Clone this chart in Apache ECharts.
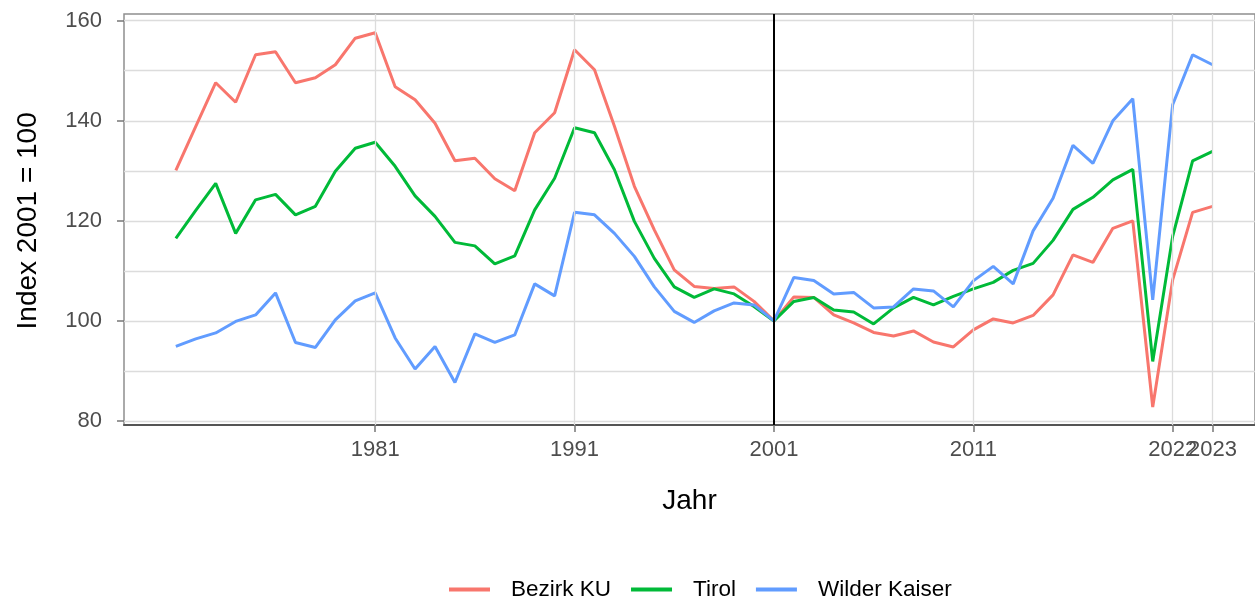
<!DOCTYPE html>
<html>
<head>
<meta charset="utf-8">
<script src="https://cdn.jsdelivr.net/npm/echarts@6/dist/echarts.min.js"></script>
<style>
  html, body { margin: 0; padding: 0; background: #fff; }
  #chart { width: 1255px; height: 597px; }
</style>
</head>
<body>
<div id="chart"></div>
<script>
// Jahre 1971 - 2023
var years = [1971,1972,1973,1974,1975,1976,1977,1978,1979,1980,
             1981,1982,1983,1984,1985,1986,1987,1988,1989,1990,
             1991,1992,1993,1994,1995,1996,1997,1998,1999,2000,
             2001,2002,2003,2004,2005,2006,2007,2008,2009,2010,
             2011,2012,2013,2014,2015,2016,2017,2018,2019,2020,
             2021,2022,2023];

var bezirkKU = [130.1,138.9,147.6,143.7,153.2,153.8,147.6,148.6,151.2,156.5,
                157.6,146.8,144.2,139.5,132.0,132.5,128.4,126.0,137.6,141.6,
                154.2,150.2,138.9,126.9,118.2,110.2,106.9,106.5,106.8,103.9,
                100,104.8,104.7,101.2,99.6,97.7,97.0,98.0,95.8,94.8,
                98.2,100.4,99.6,101.1,105.2,113.2,111.7,118.5,120.0,82.8,
                108.2,121.7,122.9];

var tirol = [116.5,122.1,127.5,117.5,124.2,125.3,121.2,122.9,129.9,134.5,
             135.7,130.9,125.0,120.9,115.7,115.0,111.4,113.0,122.2,128.5,
             138.6,137.6,130.2,119.9,112.5,106.8,104.7,106.4,105.4,102.9,
             100,103.9,104.7,102.2,101.8,99.4,102.6,104.7,103.2,104.9,
             106.4,107.7,110.1,111.5,116.1,122.3,124.7,128.2,130.3,91.9,
             116.9,132.0,133.9];

var wilderKaiser = [94.9,96.4,97.6,99.9,101.2,105.6,95.7,94.7,100.2,104.0,
                    105.6,96.6,90.4,94.9,87.7,97.4,95.7,97.2,107.4,105.0,
                    121.7,121.2,117.5,112.9,106.8,101.9,99.7,102.0,103.6,103.2,
                    100,108.7,108.1,105.4,105.7,102.6,102.8,106.4,106.0,102.8,
                    108.0,110.9,107.4,118.0,124.5,135.1,131.5,140.0,144.4,104.2,
                    143.2,153.2,151.2];

var seriesNames = ['Bezirk KU', 'Tirol', 'Wilder Kaiser'];
var seriesColors = ['#F8766D', '#00BA38', '#619CFF'];

// x-Achse: Positionen und Beschriftungen
var tickValues = [1981, 1991, 2001, 2011, 2021, 2023];
var tickLabels = ['1981', '1991', '2001', '2011', '2022', '2023'];
var refYear = 2001;
// Beschriftung die sich mit 2023 überlappt -> eigene Achse, sonst blendet echarts sie aus
var crowdedTicks = [2021];

var font = 'Liberation Sans, Arial, sans-serif';
var xMin = 1968.4, xMax = 2025.13;  // panel runs past the right edge

function pairs(vals) {
  return years.map(function (y, i) { return [y, vals[i]]; });
}
function tickText(v) {
  var i = tickValues.indexOf(Math.round(v));
  return i >= 0 ? tickLabels[i] : '';
}

var chart = echarts.init(document.getElementById('chart'));

var vGrid = tickValues.filter(function (v) { return v !== refYear; }).map(function (v) {
  return { xAxis: v };
});
var mainTicks = tickValues.filter(function (v) { return crowdedTicks.indexOf(v) < 0; });

var dataSeries = [bezirkKU, tirol, wilderKaiser].map(function (vals, i) {
  return {
    name: seriesNames[i],
    type: 'line',
    xAxisIndex: 1,
    yAxisIndex: 1,
    data: pairs(vals),
    showSymbol: false,
    symbol: 'none',
    z: 3,
    lineStyle: { width: 3, color: seriesColors[i] },
    itemStyle: { color: seriesColors[i] }
  };
});

var labelStyle = { fontSize: 22, color: '#4d4d4d', hideOverlap: false, formatter: tickText };

chart.setOption({
  animation: false,
  textStyle: { fontFamily: font },
  grid: [
    { // rahmen
      left: 124, right: 0, top: 14, bottom: 172,
      show: true, borderColor: '#8f8f8f', borderWidth: 1.5, backgroundColor: 'transparent'
    },
    { // daten
      left: 124, right: 0, top: 20.7, bottom: 176
    }
  ],
  xAxis: [
    {
      type: 'value', gridIndex: 0, min: xMin, max: xMax,
      axisLine: { show: true, lineStyle: { color: '#555', width: 2 } },
      axisTick: { show: true, customValues: tickValues, length: 7, lineStyle: { color: '#777', width: 1.5 } },
      axisLabel: Object.assign({ customValues: mainTicks, margin: 14 }, labelStyle),
      splitLine: { show: false },
      name: 'Jahr', nameLocation: 'middle', nameGap: 62,
      nameTextStyle: { fontSize: 28, color: '#000' }
    },
    {
      type: 'value', gridIndex: 1, min: xMin, max: xMax,
      axisLine: { show: false }, axisTick: { show: false }, splitLine: { show: false },
      axisLabel: Object.assign({ customValues: crowdedTicks, margin: 18 }, labelStyle)
    }
  ],
  yAxis: [
    { type: 'value', gridIndex: 0, min: 78.8, max: 161.3, show: false },
    {
      type: 'value', gridIndex: 1, min: 80, max: 160, interval: 20,
      axisLine: { show: false },
      axisTick: { show: true, length: 7, lineStyle: { color: '#777', width: 1.5 } },
      axisLabel: { fontSize: 22, color: '#4d4d4d', margin: 22 },
      splitLine: { show: true, lineStyle: { color: '#dcdcdc', width: 1.3 } },
      minorTick: { show: false, splitNumber: 2 },
      minorSplitLine: { show: true, lineStyle: { color: '#dcdcdc', width: 1.3 } },
      name: 'Index 2001 = 100', nameLocation: 'middle', nameRotate: 90, nameGap: 82,
      nameTextStyle: { fontSize: 28, color: '#000' }
    }
  ],
  legend: {
    data: seriesNames,
    left: 444, top: 573,
    icon: 'rect', itemWidth: 41, itemHeight: 4, itemGap: 20,
    textStyle: { fontSize: 22.5, color: '#000', padding: [0, 0, 0, 16] }
  },
  series: [
    {
      name: 'vgrid', type: 'line', xAxisIndex: 0, yAxisIndex: 0, data: [], z: 1,
      markLine: {
        silent: true, symbol: 'none', label: { show: false },
        lineStyle: { color: '#dcdcdc', width: 1.3, type: 'solid' },
        data: vGrid
      }
    },
    {
      name: 'ref', type: 'line', xAxisIndex: 0, yAxisIndex: 0, data: [], z: 4,
      markLine: {
        silent: true, symbol: 'none', label: { show: false },
        lineStyle: { color: '#000', width: 2, type: 'solid' },
        data: [{ xAxis: refYear }]
      }
    }
  ].concat(dataSeries)
});
</script>
</body>
</html>
